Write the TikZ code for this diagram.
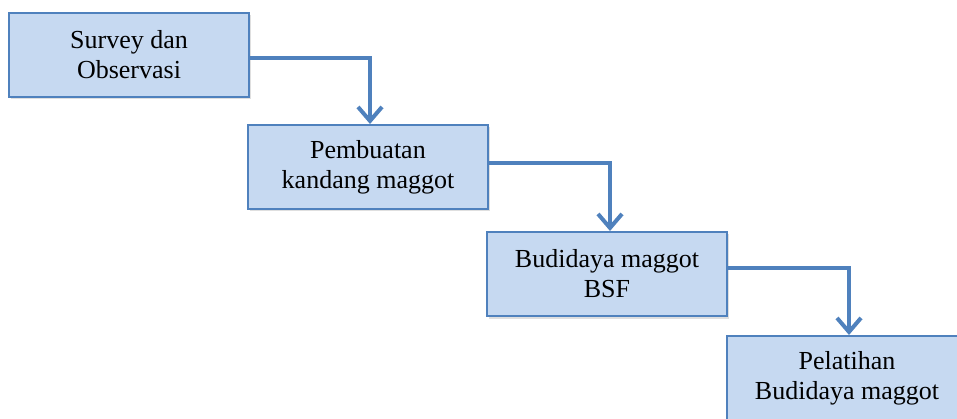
\documentclass[tikz,border=0pt]{standalone}
\usepackage{fontspec}
\setmainfont{Liberation Serif}
\usetikzlibrary{arrows.meta,shadows}
\definecolor{boxfill}{HTML}{C6D9F1}
\definecolor{boxline}{HTML}{4F81BD}
\tikzset{
  stepbox/.style={draw=boxline, line width=2pt, fill=boxfill, rectangle,
    minimum width=240pt, minimum height=84pt, inner sep=0pt, align=center,
    font=\fontsize{26}{30}\selectfont,
    drop shadow={opacity=0.25, shadow xshift=1.5pt, shadow yshift=-2.5pt}},
  flow/.style={draw=boxline, line width=4pt,
    -{Straight Barb[length=14pt,width=24pt,line width=4pt]}}
}
\begin{document}
\begin{tikzpicture}[x=1pt,y=-1pt]
\useasboundingbox (0,0) rectangle (957,419);
\node[stepbox] (b1) at (129,55) {Survey dan\\Observasi};
\node[stepbox] (b2) at (368,167) {Pembuatan\\kandang maggot};
\node[stepbox] (b3) at (607,274) {Budidaya maggot\\BSF};
\node[stepbox] (b4) at (847,378) {Pelatihan\\Budidaya maggot};
\draw[flow] ([yshift=-3pt]b1.east) -| ([xshift=2pt]b2.north);
\draw[flow] ([yshift=4pt]b2.east) -| ([xshift=3pt]b3.north);
\draw[flow] ([yshift=6pt]b3.east) -| ([xshift=2pt]b4.north);
\end{tikzpicture}
\end{document}
